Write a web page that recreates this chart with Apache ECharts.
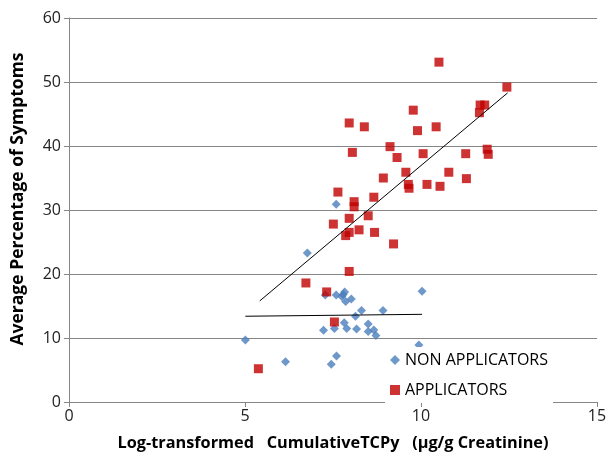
<!DOCTYPE html>
<html><head><meta charset="utf-8">
<script src="https://cdn.jsdelivr.net/npm/echarts@6/dist/echarts.min.js"></script>
<style>html,body{margin:0;padding:0;background:#fff}#c{width:613px;height:462px}</style>
</head><body><div id="c"></div>
<script>
const nonApplicators = [
  [7.59,30.9],[6.77,23.3],[7.28,16.7],[7.59,16.7],[7.83,17.2],[7.79,16.8],[7.75,16.5],
  [7.86,15.7],[8.02,16.1],[10.03,17.3],[8.31,14.3],[8.92,14.3],[8.14,13.4],[7.82,12.4],
  [7.54,11.5],[7.23,11.2],[7.89,11.5],[8.17,11.4],[8.50,12.2],[8.50,11.0],[8.66,11.25],
  [8.72,10.4],[5.01,9.7],[9.94,8.9],[7.60,7.2],[6.15,6.3],[7.45,5.9]
];
const applicators = [
  [7.96,43.6],[8.39,43.0],[8.05,39.0],[9.12,39.9],[9.32,38.2],[8.93,35.0],[7.64,32.8],
  [8.10,31.3],[8.10,30.5],[8.66,32.0],[7.96,28.7],[8.50,29.1],[10.51,53.1],[12.44,49.2],
  [11.68,46.4],[11.81,46.4],[11.66,45.2],[9.78,45.6],[9.90,42.4],[10.43,43.0],[10.06,38.8],
  [11.27,38.8],[11.88,39.5],[11.91,38.7],[9.57,35.9],[9.64,34.0],[9.66,33.4],[10.17,34.0],
  [10.54,33.7],[10.79,35.9],[11.29,34.9],[7.51,27.8],[7.96,26.5],[7.86,26.0],[8.24,26.9],
  [8.68,26.5],[9.22,24.7],[7.96,20.4],[6.73,18.6],[7.32,17.2],[7.54,12.5],[5.38,5.2]
];
const trendApplicators = [[5.42,15.8],[12.46,48.3]];
const trendNonApplicators = [[5.01,13.4],[10.03,13.7]];
const xTicks = [0,5,10,15];
const yTicks = [0,10,20,30,40,50,60];

const FONT = 'Open Sans';
const chart = echarts.init(document.getElementById('c'), null, {renderer:'canvas'});
chart.setOption({
  animation:false,
  backgroundColor:'#fff',
  grid:{left:69,right:16,top:18,bottom:60},
  legend:{
    orient:'vertical', left:385, top:347, itemGap:14,
    itemWidth:10, itemHeight:10, backgroundColor:'#fff',
    textStyle:{fontFamily:FONT,fontSize:16,color:'#000'},
    data:[{name:'NON APPLICATORS',icon:'diamond'},{name:'APPLICATORS',icon:'rect'}]
  },
  xAxis:{
    type:'value', min:xTicks[0], max:xTicks[xTicks.length-1], interval:5,
    name:'Log-transformed   CumulativeTCPy   (\u00b5g/g Creatinine)',
    nameLocation:'middle', nameGap:33,
    nameTextStyle:{fontFamily:FONT,fontSize:16.3,fontWeight:'bold',color:'#000'},
    axisLine:{lineStyle:{color:'#868686'}},
    axisTick:{show:true,length:5,lineStyle:{color:'#868686'}},
    axisLabel:{fontFamily:FONT,fontSize:16,color:'#222',margin:6},
    splitLine:{show:false}
  },
  yAxis:{
    type:'value', min:yTicks[0], max:yTicks[yTicks.length-1], interval:10,
    name:'Average Percentage of Symptoms',
    nameLocation:'middle', nameGap:42,
    nameTextStyle:{fontFamily:FONT,fontSize:17.5,fontWeight:'bold',color:'#000',padding:[0,0,0,22]},
    axisLine:{show:true,lineStyle:{color:'#868686'}},
    axisTick:{show:true,length:5,lineStyle:{color:'#868686'}},
    axisLabel:{fontFamily:FONT,fontSize:16,color:'#222',margin:8},
    splitLine:{show:true,lineStyle:{color:'#868686',width:1}}
  },
  series:[
    {name:'NON APPLICATORS',type:'scatter',symbol:'diamond',symbolSize:9,
     itemStyle:{color:'#4A7EBB'},data:nonApplicators,z:3},
    {name:'APPLICATORS',type:'scatter',symbol:'rect',symbolSize:9,
     itemStyle:{color:'#C00000'},data:applicators,z:3},
    {name:'trendA',type:'line',data:trendApplicators,symbol:'none',
     lineStyle:{color:'#000',width:1},z:4,silent:true},
    {name:'trendN',type:'line',data:trendNonApplicators,symbol:'none',
     lineStyle:{color:'#000',width:1},z:4,silent:true}
  ]
});
</script></body></html>
